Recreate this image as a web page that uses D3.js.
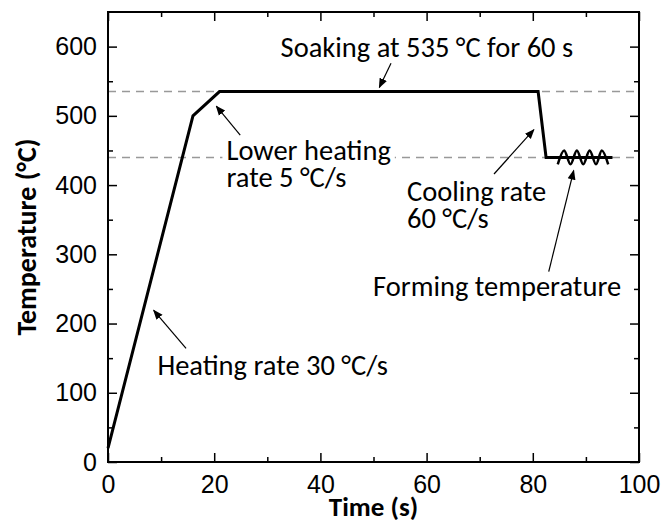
<!DOCTYPE html>
<html>
<head>
<meta charset="utf-8">
<script src="https://cdn.jsdelivr.net/npm/d3@7"></script>
<style>
  body { margin: 0; background: #fff; }
  svg { display: block; font-family: Carlito, Calibri, Lato, sans-serif; }
</style>
</head>
<body>
<script>
// temperature profile (time in s, temperature in °C)
var profileTime = [0, 16, 21, 81, 82.5, 95];
var profileTemp = [20, 500, 535, 535, 440, 440];

// the little wave drawn on the forming plateau
var waveTime = [84.7, 85.9, 87.1, 88.3, 89.5, 90.7, 91.9, 93.0, 94.2];
var waveTemp = [430, 450, 430, 450, 430, 450, 430, 450, 430];

// dashed reference levels
var refTemps = [535, 440];

var xTicks = [0, 20, 40, 60, 80, 100];
var xMinor = [10, 30, 50, 70, 90];
var yTicks = [0, 100, 200, 300, 400, 500, 600];
var yMinor = [50, 150, 250, 350, 450, 550];

// annotations: text lines, anchor (data units), arrow tail -> head (data units)
var notes = [
    { lines: ['Soaking at 535 °C for 60 s'], at: [32.5, 585.5], from: [53.3, 576], to: [51.1, 541] },
    { lines: ['Lower heating', 'rate 5 °C/s'], at: [22.3, 436], from: [24.9, 472], to: [20.4, 514] },
    { lines: ['Heating rate 30 °C/s'], at: [9.3, 125], from: [14.7, 164], to: [8.6, 219] },
    { lines: ['Cooling rate', '60 °C/s'], at: [56.3, 377.4], from: [72.7, 416], to: [80.2, 480] },
    { lines: ['Forming temperature'], at: [49.9, 240], from: [83.0, 275], to: [87.7, 421] }
];

var margin = { top: 12, right: 22, bottom: 63, left: 108 };
var width = 661, height = 525;
var w = width - margin.left - margin.right,
    h = height - margin.top - margin.bottom;

var svg = d3.select('body').append('svg')
    .attr('width', width)
    .attr('height', height);

svg.append('defs').append('marker')
    .attr('id', 'head')
    .attr('viewBox', '0 0 10 10')
    .attr('refX', 9).attr('refY', 5)
    .attr('markerWidth', 10).attr('markerHeight', 10)
    .attr('markerUnits', 'userSpaceOnUse')
    .attr('orient', 'auto')
    .append('path')
    .attr('d', 'M0,1 L10,5 L0,9 Z')
    .attr('fill', '#000');

var g = svg.append('g').attr('transform', translation(margin.left, margin.top));

var x = d3.scaleLinear().domain([0, 100]).range([0, w]);
var y = d3.scaleLinear().domain([0, 650]).range([h, 0]);

// dashed reference lines
g.selectAll('.ref')
    .data(refTemps)
    .enter().append('line')
    .attr('class', 'ref')
    .attr('x1', x(0)).attr('x2', x(100))
    .attr('y1', function (d) { return y(d); })
    .attr('y2', function (d) { return y(d); })
    .attr('stroke', '#999')
    .attr('stroke-width', 1.5)
    .attr('stroke-dasharray', '8,6');

// white boxes under the notes (they break the dashed lines)
var boxLayer = g.append('g');

// AXES - ticks point inward on all four sides
function styleAxis(sel) {
    sel.select('.domain').remove();
    sel.selectAll('line').attr('stroke', '#000').attr('stroke-width', 1.5);
    sel.selectAll('text').attr('font-size', 25).attr('fill', '#000');
}

g.append('g').attr('transform', translation(0, h))
    .call(d3.axisBottom(x).tickValues(xTicks).tickSizeInner(-9).tickSizeOuter(0).tickPadding(13))
    .call(styleAxis);
g.append('g').attr('transform', translation(0, h))
    .call(d3.axisBottom(x).tickValues(xMinor).tickSizeInner(-5).tickSizeOuter(0).tickFormat(''))
    .call(styleAxis);
g.append('g')
    .call(d3.axisTop(x).tickValues(xTicks).tickSizeInner(-9).tickSizeOuter(0).tickFormat(''))
    .call(styleAxis);
g.append('g')
    .call(d3.axisTop(x).tickValues(xMinor).tickSizeInner(-5).tickSizeOuter(0).tickFormat(''))
    .call(styleAxis);

g.append('g')
    .call(d3.axisLeft(y).tickValues(yTicks).tickSizeInner(-9).tickSizeOuter(0).tickPadding(11))
    .call(styleAxis);
g.append('g')
    .call(d3.axisLeft(y).tickValues(yMinor).tickSizeInner(-5).tickSizeOuter(0).tickFormat(''))
    .call(styleAxis);
g.append('g').attr('transform', translation(w, 0))
    .call(d3.axisRight(y).tickValues(yTicks).tickSizeInner(-9).tickSizeOuter(0).tickFormat(''))
    .call(styleAxis);
g.append('g').attr('transform', translation(w, 0))
    .call(d3.axisRight(y).tickValues(yMinor).tickSizeInner(-5).tickSizeOuter(0).tickFormat(''))
    .call(styleAxis);

// frame
g.append('rect')
    .attr('width', w).attr('height', h)
    .attr('fill', 'none')
    .attr('stroke', '#000')
    .attr('stroke-width', 2);

// PROFILE LINE
var profile = profileTime.map(function (t, i) { return [t, profileTemp[i]]; });
var line = d3.line()
    .x(function (d) { return x(d[0]); })
    .y(function (d) { return y(d[1]); });

g.append('path')
    .datum(profile)
    .attr('d', line)
    .attr('fill', 'none')
    .attr('stroke', '#000')
    .attr('stroke-width', 3)
    .attr('stroke-linejoin', 'miter');

var wave = waveTime.map(function (t, i) { return [t, waveTemp[i]]; });
g.append('path')
    .datum(wave)
    .attr('d', line.curve(d3.curveCardinal))
    .attr('fill', 'none')
    .attr('stroke', '#000')
    .attr('stroke-width', 2.5);

// ANNOTATIONS
notes.forEach(function (n) {
    var t = g.append('text')
        .attr('x', x(n.at[0]))
        .attr('y', y(n.at[1]))
        .attr('font-size', 28.5)
        .attr('fill', '#000');
    n.lines.forEach(function (s, i) {
        t.append('tspan')
            .attr('x', x(n.at[0]))
            .attr('dy', i === 0 ? 0 : 27)
            .text(s);
    });
    var bb = t.node().getBBox();
    boxLayer.append('rect')
        .attr('x', bb.x - 4).attr('y', bb.y)
        .attr('width', bb.width + 8).attr('height', bb.height)
        .attr('fill', '#fff');
    g.append('line')
        .attr('x1', x(n.from[0])).attr('y1', y(n.from[1]))
        .attr('x2', x(n.to[0])).attr('y2', y(n.to[1]))
        .attr('stroke', '#000')
        .attr('stroke-width', 1.2)
        .attr('marker-end', 'url(#head)');
});

// AXIS TITLES
svg.append('text')
    .attr('x', margin.left + w / 2)
    .attr('y', 516)
    .attr('text-anchor', 'middle')
    .attr('font-size', 27)
    .attr('font-weight', 'bold')
    .text('Time (s)');

svg.append('text')
    .attr('transform', translation(36, margin.top + h / 2) + ' rotate(-90)')
    .attr('text-anchor', 'middle')
    .attr('font-size', 28)
    .attr('font-weight', 'bold')
    .text('Temperature (°C)');

function translation(x, y) {
    return 'translate(' + x + ',' + y + ')';
}
</script>
</body>
</html>
